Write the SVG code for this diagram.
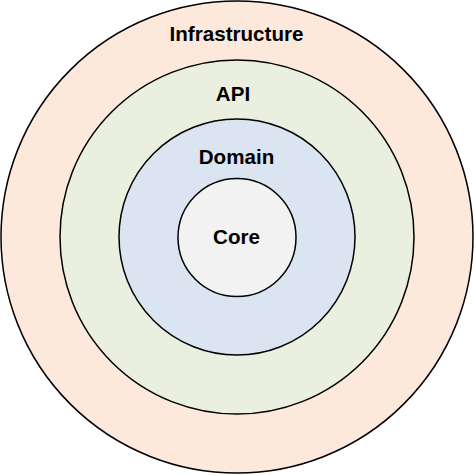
<svg xmlns="http://www.w3.org/2000/svg" width="474" height="475" viewBox="0 0 474 475">
<style>
.ring{stroke:#000;stroke-width:1.5}
.lbl{font-family:"Liberation Sans",Arial,sans-serif;font-weight:bold;font-size:20.6px;fill:#000;text-anchor:middle}
</style>
<rect width="474" height="475" fill="#fff"/>
<g id="infrastructure">
<circle class="ring" cx="237" cy="237" r="236" fill="#fde9db"/>
<text class="lbl" x="236.5" y="41">Infrastructure</text>
</g>
<g id="api">
<circle class="ring" cx="237" cy="237" r="177" fill="#ebefdf"/>
<text class="lbl" x="233" y="101">API</text>
</g>
<g id="domain">
<circle class="ring" cx="237" cy="237" r="118" fill="#dbe5f2"/>
<text class="lbl" x="236.5" y="164">Domain</text>
</g>
<g id="core">
<circle class="ring" cx="237" cy="237.5" r="59" fill="#f2f2f2"/>
<text class="lbl" x="236.5" y="244">Core</text>
</g>
<g id="connectors"/>
</svg>
